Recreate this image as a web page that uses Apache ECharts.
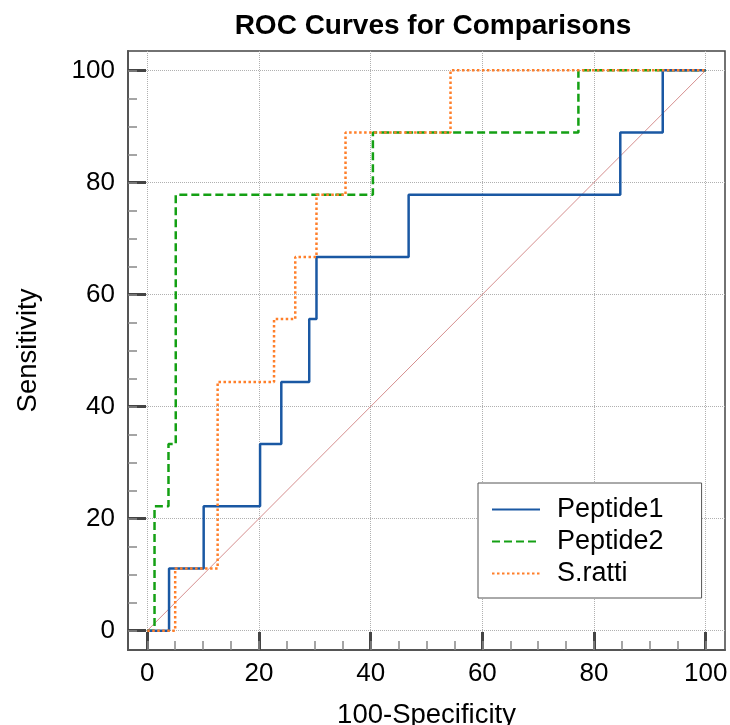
<!DOCTYPE html>
<html>
<head>
<meta charset="utf-8">
<script src="https://cdn.jsdelivr.net/npm/echarts@6/dist/echarts.min.js"></script>
<style>html,body{margin:0;padding:0;background:#fff}#c{width:730px;height:725px}</style>
</head>
<body>
<div id="c"></div>
<script>
// ---- data ----
const peptide1X = [0, 3.9, 10.1, 20.2, 24.0, 29.0, 30.3, 46.8, 84.7, 92.3, 100];
const peptide1Y = [0, 11.1, 22.2, 33.3, 44.4, 55.6, 66.7, 77.8, 88.9, 100, 100];
const peptide2X = [0, 1.3, 3.8, 5.1, 40.4, 77.2, 100];
const peptide2Y = [0, 22.2, 33.3, 77.8, 88.9, 100, 100];
const sRattiX = [0, 5.0, 12.6, 22.7, 26.5, 30.3, 35.5, 54.3, 100];
const sRattiY = [0, 11.1, 44.4, 55.6, 66.7, 77.8, 88.9, 100, 100];
const diagonalX = [0, 100];
const diagonalY = [0, 100];
const majorTicks = [0, 20, 40, 60, 80, 100];
const minorTicks = [0, 5, 10, 15, 20, 25, 30, 35, 40, 45, 50, 55, 60, 65, 70, 75, 80, 85, 90, 95, 100];
const seriesNames = ['Peptide1', 'Peptide2', 'S.ratti'];

const zip = (xs, ys) => xs.map((x, i) => [x, ys[i]]);
const FONT = 'Liberation Sans, Arial, sans-serif';
const AMIN = -3.45, AMAX = 103.45;

const chart = echarts.init(document.getElementById('c'), null, {renderer: 'canvas'});
const baseAxis = {type: 'value', min: AMIN, max: AMAX};
const option = {
  animation: false,
  backgroundColor: '#fff',
  title: {
    text: 'ROC Curves for Comparisons',
    left: 428, top: 7, textAlign: 'center',
    textStyle: {fontFamily: FONT, fontSize: 28, fontWeight: 'bold', color: '#000'}
  },
  grid: {left: 128, right: 5, top: 51, bottom: 75, show: true, borderColor: '#444', borderWidth: 1.5,
         containLabel: false, outerBoundsMode: 'none'},
  legend: {
    orient: 'vertical', left: 478, top: 483,
    data: seriesNames,
    backgroundColor: '#fff', borderColor: '#555', borderWidth: 1,
    padding: [13, 38, 11, 13],
    itemWidth: 48, itemHeight: 10, itemGap: 5,
    itemStyle: {opacity: 0},
    textStyle: {fontFamily: FONT, fontSize: 27, color: '#000', padding: [0, 0, 0, 12]}
  },
  xAxis: [
    Object.assign({}, baseAxis, {
      position: 'bottom',
      name: '100-Specificity', nameLocation: 'middle', nameGap: 51,
      nameTextStyle: {fontFamily: FONT, fontSize: 27.5, color: '#000'},
      axisLine: {show: true, onZero: false, lineStyle: {color: '#555', width: 2}},
      axisTick: {show: true, inside: true, length: 18, customValues: majorTicks, lineStyle: {color: '#444', width: 3}},
      axisLabel: {show: true, customValues: majorTicks, margin: 11, fontFamily: FONT, fontSize: 26, color: '#000'},
      splitLine: {show: true, lineStyle: {color: '#b0b0b0', type: 'dotted', width: 1}}
    }),
    Object.assign({}, baseAxis, {
      position: 'bottom',
      axisLine: {show: false, onZero: false},
      axisTick: {show: true, inside: true, length: 9, customValues: minorTicks, lineStyle: {color: '#888', width: 1.5}},
      axisLabel: {show: false},
      splitLine: {show: false}
    })
  ],
  yAxis: [
    Object.assign({}, baseAxis, {
      position: 'left',
      name: 'Sensitivity', nameLocation: 'middle', nameGap: 86,
      nameTextStyle: {fontFamily: FONT, fontSize: 27.5, color: '#000'},
      axisLine: {show: true, onZero: false, lineStyle: {color: '#555', width: 2}},
      axisTick: {show: true, inside: true, length: 18, customValues: majorTicks, lineStyle: {color: '#444', width: 3}},
      axisLabel: {show: true, customValues: majorTicks, margin: 13, fontFamily: FONT, fontSize: 26, color: '#000'},
      splitLine: {show: true, lineStyle: {color: '#b0b0b0', type: 'dotted', width: 1}}
    }),
    Object.assign({}, baseAxis, {
      position: 'left',
      axisLine: {show: false, onZero: false},
      axisTick: {show: true, inside: true, length: 9, customValues: minorTicks, lineStyle: {color: '#888', width: 1.5}},
      axisLabel: {show: false},
      splitLine: {show: false}
    })
  ],
  series: [
    {
      name: 'diagonal', type: 'line', data: zip(diagonalX, diagonalY),
      symbol: 'none', silent: true,
      lineStyle: {color: '#d68f8f', width: 1}, z: 1
    },
    {
      name: seriesNames[0], type: 'line', step: 'end', data: zip(peptide1X, peptide1Y),
      symbol: 'none', color: '#1a58a3',
      lineStyle: {color: '#1a58a3', width: 2.5, type: 'solid'}, z: 4
    },
    {
      name: seriesNames[1], type: 'line', step: 'end', data: zip(peptide2X, peptide2Y),
      symbol: 'none', color: '#14a014',
      lineStyle: {color: '#14a014', width: 2.5, type: [8, 4]}, z: 3
    },
    {
      name: seriesNames[2], type: 'line', step: 'end', data: zip(sRattiX, sRattiY),
      symbol: 'none', color: '#ff7f2a',
      lineStyle: {color: '#ff7f2a', width: 2.5, type: [2.5, 2.5]}, z: 5
    }
  ]
};
chart.setOption(option);
</script>
</body>
</html>
